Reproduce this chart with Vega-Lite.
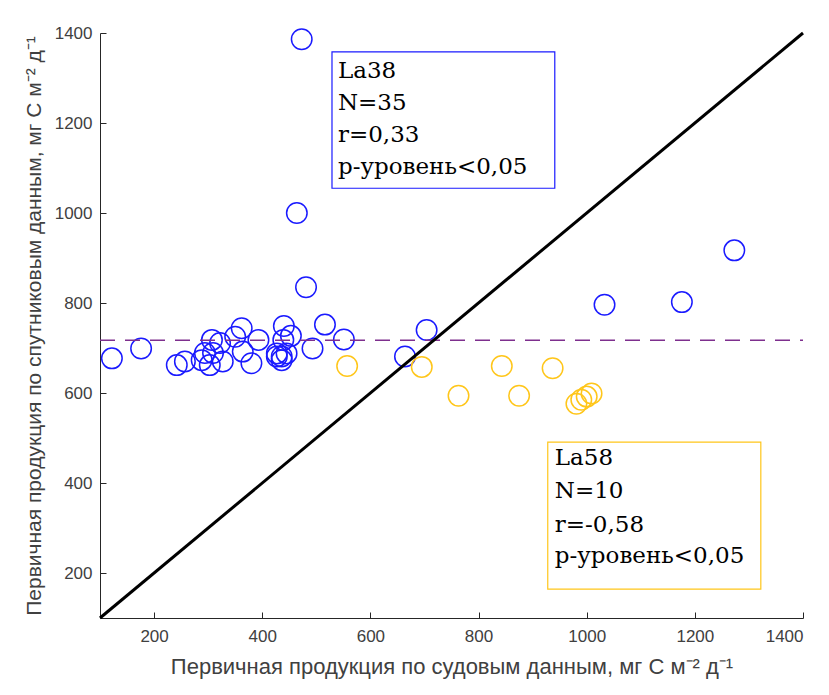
{
  "$schema": "https://vega.github.io/schema/vega-lite/v6.json",
  "width": 703,
  "height": 585,
  "autosize": {"type": "none"},
  "padding": {"left": 100, "top": 33, "right": 26, "bottom": 77},
  "background": "white",
  "config": {
    "view": {"stroke": null},
    "axis": {
      "labelFont": "Liberation Sans",
      "titleFont": "Liberation Sans",
      "labelFontSize": 17,
      "titleFontSize": 21,
      "titleFontWeight": "normal",
      "labelColor": "#404040",
      "titleColor": "#404040",
      "domainColor": "#262626",
      "tickColor": "#262626",
      "grid": false,
      "format": "d"
    }
  },
  "datasets": {
    "pts": [
      {"ship": 473, "sat": 1386, "grp": "La38"},
      {"ship": 464, "sat": 1000, "grp": "La38"},
      {"ship": 481, "sat": 835, "grp": "La38"},
      {"ship": 1273, "sat": 917, "grp": "La38"},
      {"ship": 1033, "sat": 796, "grp": "La38"},
      {"ship": 1176, "sat": 802, "grp": "La38"},
      {"ship": 704, "sat": 740, "grp": "La38"},
      {"ship": 664, "sat": 681, "grp": "La38"},
      {"ship": 551, "sat": 719, "grp": "La38"},
      {"ship": 516, "sat": 752, "grp": "La38"},
      {"ship": 493, "sat": 699, "grp": "La38"},
      {"ship": 440, "sat": 749, "grp": "La38"},
      {"ship": 453, "sat": 727, "grp": "La38"},
      {"ship": 439, "sat": 718, "grp": "La38"},
      {"ship": 427, "sat": 681, "grp": "La38"},
      {"ship": 436, "sat": 681, "grp": "La38"},
      {"ship": 445, "sat": 688, "grp": "La38"},
      {"ship": 436, "sat": 673, "grp": "La38"},
      {"ship": 427, "sat": 688, "grp": "La38"},
      {"ship": 380, "sat": 666, "grp": "La38"},
      {"ship": 393, "sat": 718, "grp": "La38"},
      {"ship": 362, "sat": 744, "grp": "La38"},
      {"ship": 350, "sat": 725, "grp": "La38"},
      {"ship": 364, "sat": 692, "grp": "La38"},
      {"ship": 327, "sat": 670, "grp": "La38"},
      {"ship": 322, "sat": 711, "grp": "La38"},
      {"ship": 309, "sat": 689, "grp": "La38"},
      {"ship": 307, "sat": 718, "grp": "La38"},
      {"ship": 294, "sat": 689, "grp": "La38"},
      {"ship": 288, "sat": 673, "grp": "La38"},
      {"ship": 257, "sat": 670, "grp": "La38"},
      {"ship": 242, "sat": 662, "grp": "La38"},
      {"ship": 176, "sat": 699, "grp": "La38"},
      {"ship": 122, "sat": 677, "grp": "La38"},
      {"ship": 303, "sat": 662, "grp": "La38"},
      {"ship": 557, "sat": 660, "grp": "La58"},
      {"ship": 695, "sat": 658, "grp": "La58"},
      {"ship": 763, "sat": 594, "grp": "La58"},
      {"ship": 843, "sat": 660, "grp": "La58"},
      {"ship": 875, "sat": 594, "grp": "La58"},
      {"ship": 937, "sat": 655, "grp": "La58"},
      {"ship": 981, "sat": 576, "grp": "La58"},
      {"ship": 990, "sat": 585, "grp": "La58"},
      {"ship": 1000, "sat": 592, "grp": "La58"},
      {"ship": 1009, "sat": 599, "grp": "La58"}
    ],
    "diag": [{"x1": 100, "y1": 100, "x2": 1400, "y2": 1400}],
    "mean": [{"x1": 100, "x2": 1400, "m": 717}],
    "boxes": [
      {"x1": 529, "x2": 941, "y1": 1055, "y2": 1358, "grp": "La38"},
      {"x1": 928, "x2": 1322, "y1": 164, "y2": 491, "grp": "La58"}
    ],
    "labels": [
      {"tx": 540, "ty": 1300, "t": "La38"},
      {"tx": 540, "ty": 1229, "t": "N=35"},
      {"tx": 540, "ty": 1158, "t": "r=0,33"},
      {"tx": 540, "ty": 1087, "t": "p-уровень<0,05"},
      {"tx": 941, "ty": 440, "t": "La58"},
      {"tx": 941, "ty": 367, "t": "N=10"},
      {"tx": 941, "ty": 292, "t": "r=-0,58"},
      {"tx": 941, "ty": 222, "t": "p-уровень<0,05"}
    ]
  },
  "layer": [
    {
      "data": {"name": "pts"},
      "mark": {"type": "point", "shape": "circle", "filled": false, "size": 420, "strokeWidth": 1.5, "opacity": 1},
      "encoding": {
        "x": {
          "field": "ship", "type": "quantitative",
          "scale": {"domain": [100, 1400], "nice": false, "zero": false},
          "axis": {"values": [200, 400, 600, 800, 1000, 1200, 1400], "tickSize": -6, "labelPadding": 16, "titlePadding": 12, "titleFontSize": 22,
                   "title": "Первичная продукция по судовым данным, мг С м⁻² д⁻¹"}
        },
        "y": {
          "field": "sat", "type": "quantitative",
          "scale": {"domain": [100, 1400], "nice": false, "zero": false},
          "axis": {"values": [200, 400, 600, 800, 1000, 1200, 1400], "tickSize": -6, "labelPadding": 14, "titlePadding": 10,
                   "title": "Первичная продукция по спутниковым данным, мг С м⁻² д⁻¹"}
        },
        "color": {"field": "grp", "type": "nominal", "scale": {"domain": ["La38", "La58"], "range": ["#1a1aff", "#ffc61a"]}, "legend": null}
      }
    },
    {
      "data": {"name": "mean"},
      "mark": {"type": "rule", "color": "#7e2f8e", "strokeWidth": 1.5, "strokeDash": [15, 10]},
      "encoding": {
        "x": {"field": "x1", "type": "quantitative"},
        "x2": {"field": "x2"},
        "y": {"field": "m", "type": "quantitative"}
      }
    },
    {
      "data": {"name": "diag"},
      "mark": {"type": "rule", "color": "#000000", "strokeWidth": 3},
      "encoding": {
        "x": {"field": "x1", "type": "quantitative"},
        "y": {"field": "y1", "type": "quantitative"},
        "x2": {"field": "x2"},
        "y2": {"field": "y2"}
      }
    },
    {
      "data": {"name": "boxes"},
      "mark": {"type": "rect", "fill": "white", "strokeWidth": 1.2},
      "encoding": {
        "x": {"field": "x1", "type": "quantitative"},
        "x2": {"field": "x2"},
        "y": {"field": "y1", "type": "quantitative"},
        "y2": {"field": "y2"},
        "stroke": {"field": "grp", "type": "nominal", "scale": {"domain": ["La38", "La58"], "range": ["#1a1aff", "#ffc61a"]}, "legend": null}
      }
    },
    {
      "data": {"name": "labels"},
      "mark": {"type": "text", "font": "DejaVu Serif", "fontSize": 23, "align": "left", "baseline": "alphabetic", "color": "#000000"},
      "encoding": {
        "x": {"field": "tx", "type": "quantitative"},
        "y": {"field": "ty", "type": "quantitative"},
        "text": {"field": "t", "type": "nominal"}
      }
    }
  ]
}
